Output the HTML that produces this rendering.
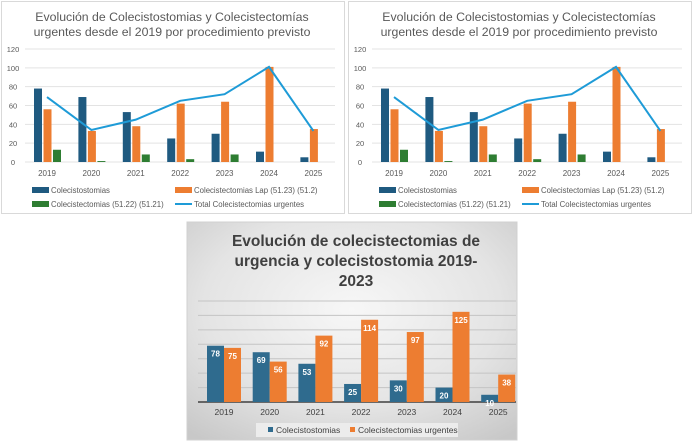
<!DOCTYPE html>
<html><head><meta charset="utf-8"><style>
body{margin:0;width:697px;height:444px;background:#fff;overflow:hidden;font-family:"Liberation Sans",sans-serif}
svg{position:absolute;left:0;top:0}
</style></head><body>
<svg id="s" width="697" height="444" xmlns="http://www.w3.org/2000/svg">
<defs>
<radialGradient id="bg" cx="50%" cy="40%" r="75%"><stop offset="0" stop-color="#f7f7f7"/><stop offset="0.6" stop-color="#e4e4e4"/><stop offset="1" stop-color="#c8c8c8"/></radialGradient>
</defs>
</svg>
<script>
const years=['2019','2020','2021','2022','2023','2024','2025'];
const colecistostomias=[78,69,53,25,30,11,5];
const lapValues=[56,33,38,62,64,101,35];
const abiertaValues=[13,1,8,3,8,0,0];
const totalValues=[69,34,45,65,72,101,33];
const yTicks=[0,20,40,60,80,100,120];
const bottomStomias=[78,69,53,25,30,20,10];
const bottomUrgentes=[75,56,92,114,97,125,38];
const bottomGrid=[0,20,40,60,80,100,120,140];
const NS='http://www.w3.org/2000/svg';
const svg=document.getElementById('s');
function el(tag,attrs,parent,text){const e=document.createElementNS(NS,tag);for(const k in attrs)e.setAttribute(k,attrs[k]);if(text!==undefined)e.textContent=text;(parent||svg).appendChild(e);return e;}
function topChart(ox,idx){
  const g=el('g',{transform:'translate('+ox+',0)'});
  
  
  const panel=el('rect',{x:1.5,y:1.5,width:343,height:212,fill:'#fff',stroke:'#d9d9d9'},g);
  
  
  const y=v=>162-v*113/120;
  const x=i=>47+i*44.4;
  const t1=el('text',{x:172,y:21,'text-anchor':'middle','font-size':12.3,fill:'#595959'},g,'Evolución de Colecistostomias y Colecistectomías');
  
  
  const t2=el('text',{x:172,y:36,'text-anchor':'middle','font-size':12.3,fill:'#595959'},g,'urgentes desde el 2019 por procedimiento previsto');
  
  
  yTicks.forEach(v=>{
    const l=el('line',{x1:25,x2:335,y1:y(v),y2:y(v),stroke:'#e3e3e3'},g);
    
    
    const tx=el('text',{x:13,y:y(v)+3,'text-anchor':'middle','font-size':7.5,fill:'#595959'},g,String(v));
    
    
  });
  years.forEach((yr,i)=>{
    const tx=el('text',{x:x(i),y:176,'text-anchor':'middle','font-size':8,fill:'#595959'},g,yr);
    
    
    [[colecistostomias,'#1f5a80',-13],[lapValues,'#ed7d31',-3.5],[abiertaValues,'#2e7d32',6]].forEach(([arr,c,off],k)=>{
      if(arr[i]<=0)return;
      const b=el('rect',{x:x(i)+off,y:y(arr[i]),width:8,height:162-y(arr[i]),fill:c},g);
      
      
    });
  });
  const pts=totalValues.map((v,i)=>x(i)+','+y(v)).join(' ');
  const pl=el('polyline',{points:pts,fill:'none',stroke:'#1e9bd7','stroke-width':2},g);
  
  
  const leg=[['Colecistostomias','#1f5a80',32,190,'rect'],['Colecistectomias Lap (51.23) (51.2)','#ed7d31',175,190,'rect'],['Colecistectomias (51.22) (51.21)','#2e7d32',32,204,'rect'],['Total Colecistectomias urgentes','#1e9bd7',175,204,'line']];
  leg.forEach(([n,c,lx,ly,t])=>{
    if(t==='rect'){const r=el('rect',{x:lx,y:ly-3,width:17,height:6,fill:c},g);}
    else{const r=el('line',{x1:lx,x2:lx+17,y1:ly,y2:ly,stroke:c,'stroke-width':2},g);}
    const tx=el('text',{x:lx+19,y:ly+3,'font-size':7.8,fill:'#595959'},g,n);
    
    
  });
}
topChart(0,1);topChart(347,2);
const bg=el('g',{});


const bp=el('rect',{x:187,y:222,width:330,height:218,fill:'url(#bg)',stroke:'#d0d0d0'},bg);


['Evolución de colecistectomias de','urgencia y colecistostomia 2019-','2023'].forEach((s,i)=>{
  const t=el('text',{x:356,y:246+i*20,'text-anchor':'middle','font-size':15.5,'font-weight':'bold',fill:'#404040'},bg,s);
  
  
});
const by=v=>402-v*101/140;
const bx=i=>224+i*45.7;
bottomGrid.forEach(v=>{
  const l=el('line',{x1:198,x2:516,y1:by(v),y2:by(v),stroke:v===0?'#404040':'#c4c4c4','stroke-width':v===0?1.5:1},bg);
  
  
});
years.forEach((yr,i)=>{
  const tx=el('text',{x:bx(i),y:415,'text-anchor':'middle','font-size':8.5,fill:'#404040'},bg,yr);
  
  
  [[bottomStomias,'#2f6b8e',-17],[bottomUrgentes,'#ed7d31',0]].forEach(([arr,c,off],k)=>{
    const b=el('rect',{x:bx(i)+off,y:by(arr[i]),width:17,height:402-by(arr[i]),fill:c},bg);
    
    
    const lb=el('text',{x:bx(i)+off+8.5,y:by(arr[i])+11,'text-anchor':'middle','font-size':8,'font-weight':'bold',fill:'#fff'},bg,String(arr[i]));
    
    
  });
});
const lbx=el('rect',{x:256,y:423,width:202,height:14,fill:'#ececec'},bg);


[['Colecistostomias','#2f6b8e',268],['Colecistectomias urgentes','#ed7d31',350]].forEach(([n,c,lx])=>{
  const r=el('rect',{x:lx,y:427,width:5,height:5,fill:c},bg);
  
  
  const t=el('text',{x:lx+8,y:433,'font-size':8.5,fill:'#404040'},bg,n);
  
  
});
</script>
</body></html>
